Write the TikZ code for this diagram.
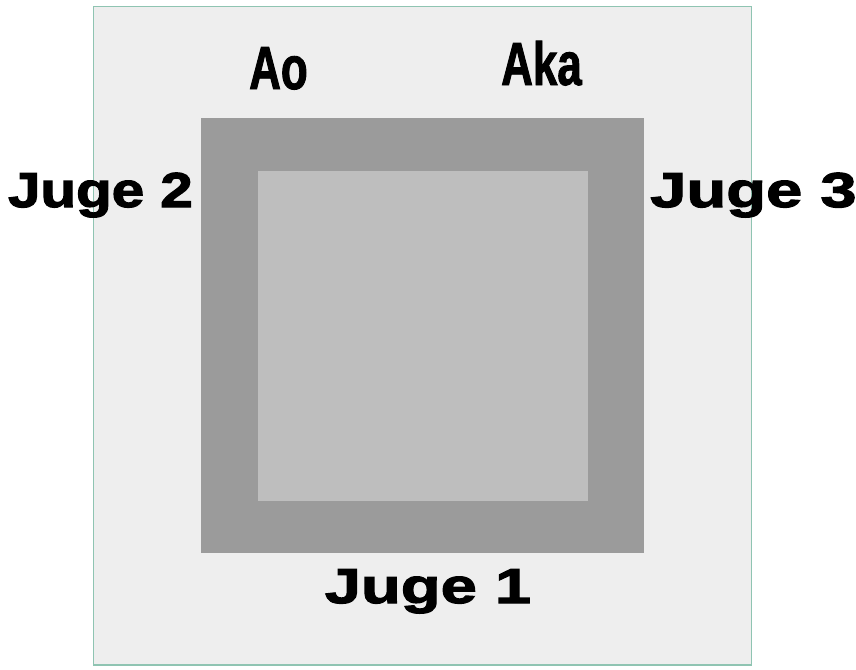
\documentclass[tikz,border=0pt]{standalone}
\usepackage{fontspec}
\setmainfont{Liberation Sans}
\newfontfamily\jugefont[FakeStretch=1.33,FakeBold=2.5]{Liberation Sans}
\newfontfamily\jugenarrowfont[FakeStretch=1.19,FakeBold=2.5]{Liberation Sans}
\newfontfamily\akafont[FakeStretch=0.72,FakeBold=1.5]{Liberation Sans}
\definecolor{outerfill}{HTML}{EEEEEE}
\definecolor{outerline}{HTML}{8FC4B2}
\definecolor{matdark}{HTML}{9B9B9B}
\definecolor{matlight}{HTML}{BEBEBE}
\begin{document}
\begin{tikzpicture}[x=1pt,y=-1pt,
  juge/.style={font=\jugefont\bfseries\fontsize{49}{49}\selectfont, inner sep=0pt},
  jugenarrow/.style={font=\jugenarrowfont\bfseries\fontsize{49}{49}\selectfont, inner sep=0pt},
  side/.style={font=\akafont\bfseries\fontsize{61}{61}\selectfont, inner sep=0pt}]
\useasboundingbox (0,0) rectangle (856,669);
\fill[white] (0,0) rectangle (856,669);
% floor
\draw[fill=outerfill, draw=outerline, line width=1.5pt] (93.5,6.5) rectangle (751.5,665);
% competition area
\fill[matdark] (201,118) rectangle (644,553);
\fill[matlight] (258,171) rectangle (588,501);
% labels
\node[juge, anchor=base] (j1) at (428,603) {Juge 1};
\node[jugenarrow, anchor=base east] (j2) at (193,207) {Juge 2};
\node[juge, anchor=base west] (j3) at (650,207) {Juge 3};
\node[side, anchor=base west] (ao) at (249,89) {Ao};
\node[side, anchor=base west] (aka) at (501,85) {Aka};
\end{tikzpicture}
\end{document}
